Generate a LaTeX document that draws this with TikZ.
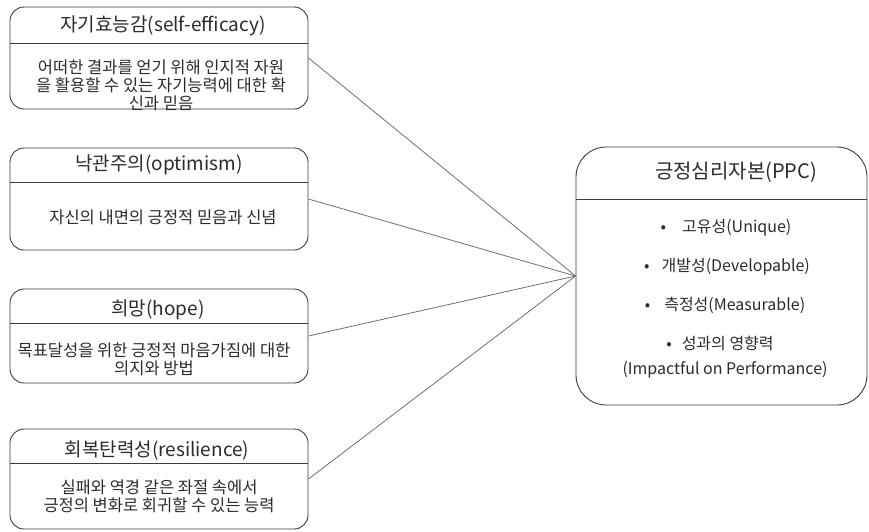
\documentclass[tikz,border=0pt]{standalone}
\usepackage{fontspec}
\setmainfont{Noto Sans CJK KR}
\definecolor{boxline}{HTML}{3C3C3C}
\definecolor{linkline}{HTML}{6E6E6E}
\definecolor{txt}{HTML}{2B2B2B}
\tikzset{
  factor/.style={draw=boxline, line width=0.9pt, rounded corners=14pt, minimum width=298pt, inner sep=0pt},
  head/.style={text=txt, inner sep=0pt, font=\fontsize{19}{21}\selectfont},
  body/.style={text=txt, inner sep=0pt, align=center, font=\fontsize{16.5}{18}\selectfont},
  item/.style={text=txt, inner sep=0pt, align=center, font=\fontsize{16}{18}\selectfont},
  sep/.style={draw=boxline, line width=0.9pt},
  link/.style={draw=linkline, line width=0.8pt}
}
\begin{document}
\begin{tikzpicture}[x=1pt,y=-1pt]
            \useasboundingbox (0,0) rectangle (869,531);

            \node[factor, minimum height=102pt] (eff) at (159,58) {};
            \node[factor, minimum height=102pt] (opt) at (159,199) {};
            \node[factor, minimum height=94pt] (hope) at (159,336) {};
            \node[factor, minimum height=100pt] (res) at (159,479) {};
            \node[factor, rounded corners=30pt, minimum width=291pt, minimum height=258pt] (ppc) at (721.5,276) {};

            \draw[sep] (eff.west |- 0,43) -- (eff.east |- 0,43);
            \draw[sep] (opt.west |- 0,182) -- (opt.east |- 0,182);
            \draw[sep] (hope.west |- 0,323) -- (hope.east |- 0,323);
            \draw[sep] (res.west |- 0,463) -- (res.east |- 0,463);
            \draw[sep] (ppc.west |- 0,199) -- (ppc.east |- 0,199);

            \node[head] (eff-h) at (163,26) {자기효능감(self-efficacy)};
            \node[body] (eff-b) at (161,85) {어떠한 결과를 얻기 위해 인지적 자원\\을 활용할 수 있는 자기능력에 대한 확\\신과 믿음};
            \node[head] (opt-h) at (159,165) {낙관주의(optimism)};
            \node[body] (opt-b) at (163,217) {자신의 내면의 긍정적 믿음과 신념};
            \node[head] (hope-h) at (158,310) {희망(hope)};
            \node[body] (hope-b) at (154,359) {목표달성을 위한 긍정적 마음가짐에 대한\\의지와 방법};
            \node[head] (res-h) at (157,450) {회복탄력성(resilience)};
            \node[body] (res-b) at (159,496) {실패와 역경 같은 좌절 속에서\\긍정의 변화로 회귀할 수 있는 능력};

            \node[head, font=\fontsize{20}{22}\selectfont] (ppc-h) at (736,172) {긍정심리자본(PPC)};
            \node[item] (ppc-1) at (726,228) {•\hspace{16pt}고유성(Unique)};
            \node[item] (ppc-2) at (727,267) {•\hspace{12pt}개발성(Developable)};
            \node[item] (ppc-3) at (725,305) {•\hspace{14pt}측정성(Measurable)};
            \node[item] (ppc-4) at (720,343) {•\hspace{10pt}성과의 영향력};
            \node[item] (ppc-5) at (725,370) {(Impactful on Performance)};

            \draw[link] (eff.east) -- (ppc.west);
            \draw[link] (opt.east) -- (ppc.west);
            \draw[link] (hope.east) -- (ppc.west);
            \draw[link] (res.east) -- (ppc.west);
\end{tikzpicture}
\end{document}
